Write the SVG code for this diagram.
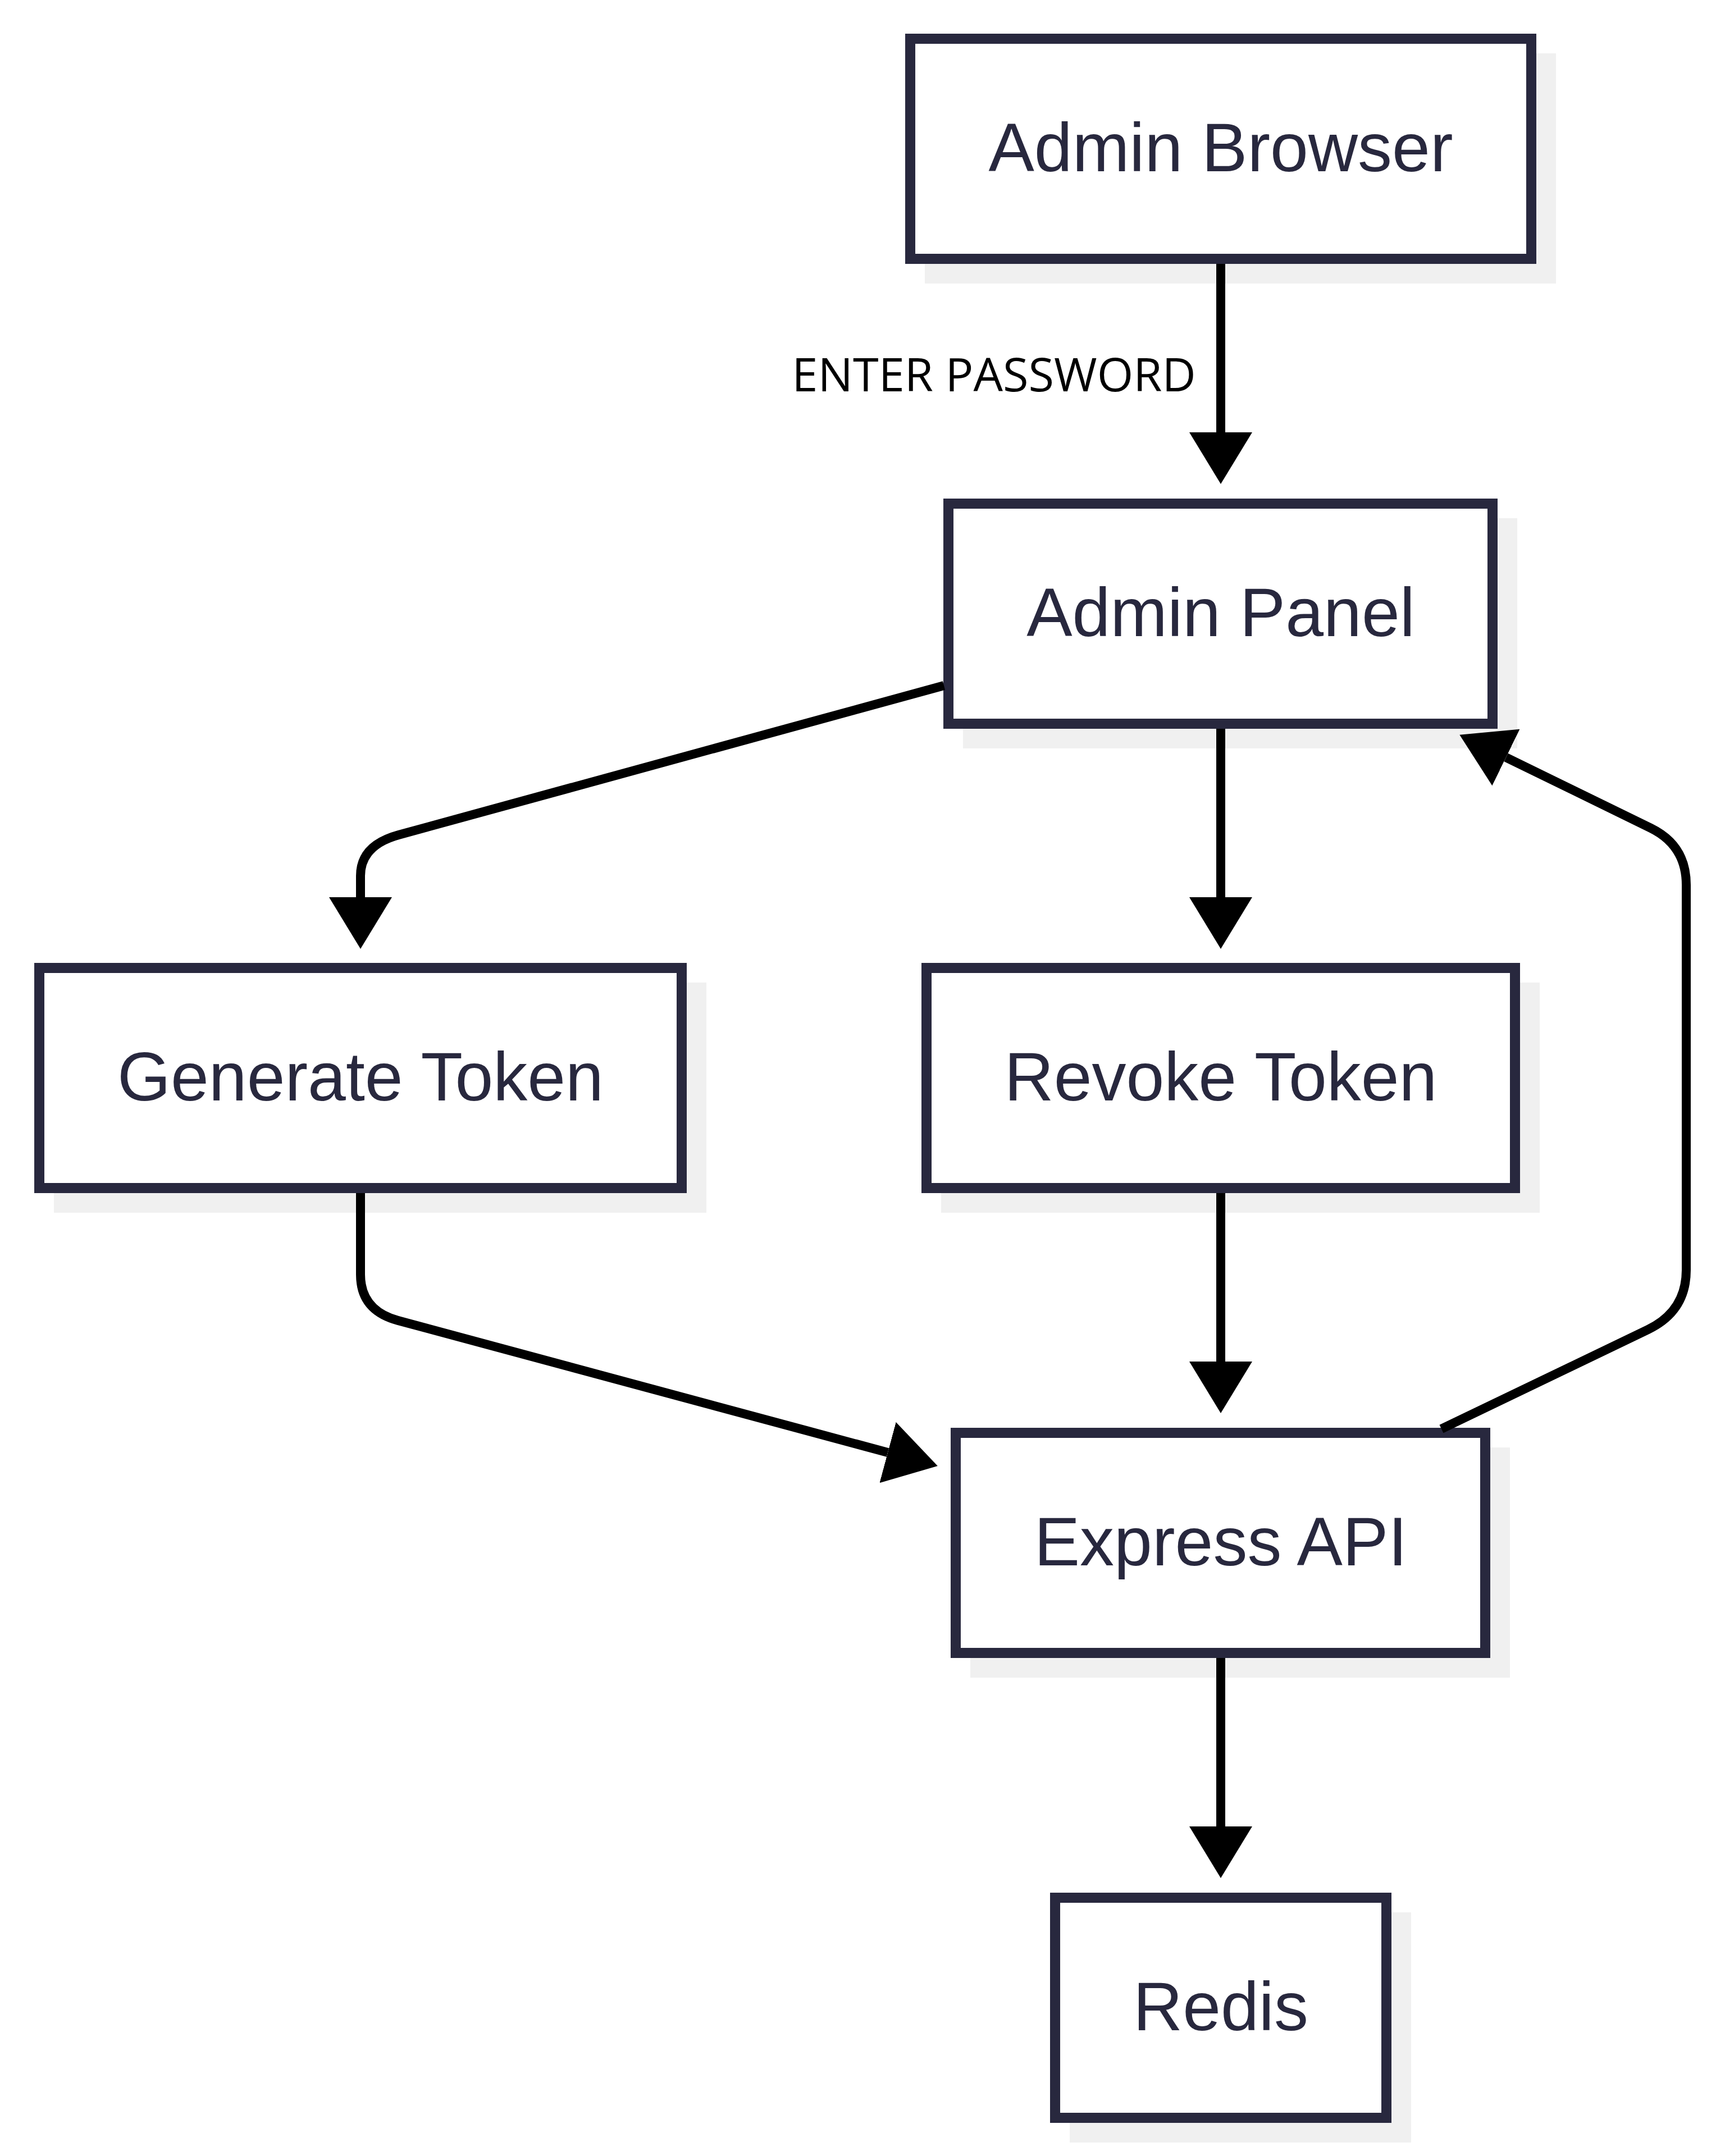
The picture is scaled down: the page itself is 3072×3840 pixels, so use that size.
<svg xmlns="http://www.w3.org/2000/svg" width="3072" height="3840" viewBox="0 0 3072 3840">
  <style>
    .shadow { fill: #f0f0f0; stroke: none; }
    .box { fill: #ffffff; stroke: #28283e; stroke-width: 18; }
    .label { font-family: "Liberation Sans", Arial, sans-serif; font-size: 122px; fill: #28283e; text-anchor: middle; }
    .edge { fill: none; stroke: #000000; stroke-width: 16; stroke-linejoin: round; }
    .elabel { font-family: "Open Sans", "Noto Sans", sans-serif; font-size: 83px; fill: #000000; text-anchor: middle; }
  </style>
  <defs>
    <marker id="arrow" viewBox="0 0 92 112" refX="0" refY="56" markerWidth="92" markerHeight="112" markerUnits="userSpaceOnUse" orient="auto">
      <path d="M0,0 L92,56 L0,112 Z" fill="#000000"/>
    </marker>
  </defs>
  <rect width="3072" height="3840" fill="#ffffff"/>

  <g id="node-admin-browser">
    <rect class="shadow" x="1647" y="95" width="1124" height="410"/>
    <rect class="box" x="1621" y="69" width="1106" height="392"/>
    <text class="label" x="2174" y="305">Admin Browser</text>
  </g>
  <g id="node-admin-panel">
    <rect class="shadow" x="1715" y="923" width="987" height="410"/>
    <rect class="box" x="1689" y="897" width="969" height="392"/>
    <text class="label" x="2174" y="1133">Admin Panel</text>
  </g>
  <g id="node-generate-token">
    <rect class="shadow" x="96" y="1750" width="1162" height="410"/>
    <rect class="box" x="70" y="1724" width="1144" height="392"/>
    <text class="label" x="642" y="1960">Generate Token</text>
  </g>
  <g id="node-revoke-token">
    <rect class="shadow" x="1676" y="1750" width="1066" height="410"/>
    <rect class="box" x="1650" y="1724" width="1048" height="392"/>
    <text class="label" x="2174" y="1960">Revoke Token</text>
  </g>
  <g id="node-express-api">
    <rect class="shadow" x="1728" y="2578" width="961" height="410"/>
    <rect class="box" x="1702" y="2552" width="943" height="392"/>
    <text class="label" x="2174" y="2788">Express API</text>
  </g>
  <g id="node-redis">
    <rect class="shadow" x="1905" y="3406" width="608" height="410"/>
    <rect class="box" x="1879" y="3380" width="590" height="392"/>
    <text class="label" x="2174" y="3616">Redis</text>
  </g>

  <g id="connectors">
    <path class="edge" d="M2174 470 V770" marker-end="url(#arrow)"/>
    <path class="edge" d="M1681 1221 L710 1487 Q642 1505.6 642 1560 L642 1598" marker-end="url(#arrow)"/>
    <path class="edge" d="M2174 1298 V1598" marker-end="url(#arrow)"/>
    <path class="edge" d="M642 2125 V2270 Q642 2334 709 2352 L1581 2587" marker-end="url(#arrow)"/>
    <path class="edge" d="M2174 2125 V2425" marker-end="url(#arrow)"/>
    <path class="edge" d="M2174 2953 V3253" marker-end="url(#arrow)"/>
    <path class="edge" d="M2567 2545 L2935 2368 Q3003 2335 3003 2262 V1576 Q3003 1506 2940 1475 L2682 1349" marker-end="url(#arrow)"/>
    <text class="elabel" x="1770" y="697">ENTER PASSWORD</text>
  </g>
</svg>
